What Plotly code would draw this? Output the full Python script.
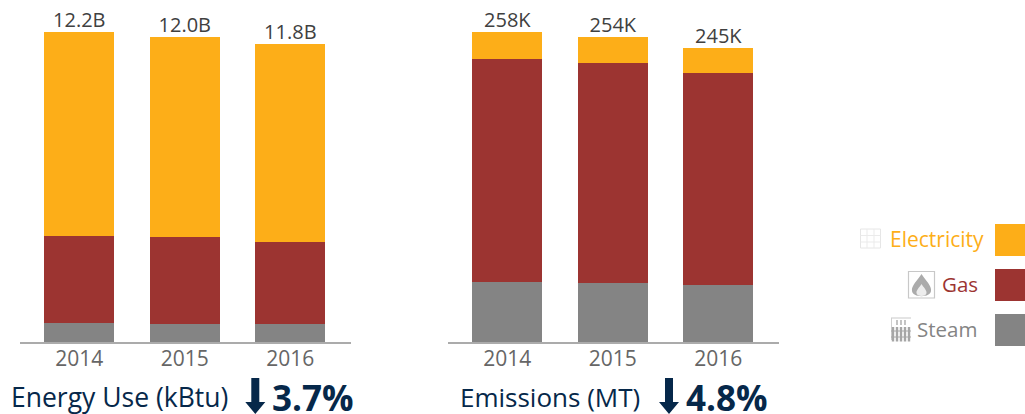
import plotly.graph_objects as go

W, H = 1025, 414
years = ["2014", "2015", "2016"]
energy_steam = [0.75, 0.71, 0.71]
energy_gas = [3.42, 3.42, 3.23]
energy_elec = [8.03, 7.87, 7.80]
energy_labels = ["12.2B", "12.0B", "11.8B"]
emis_steam = [49.9, 49.1, 47.4]
emis_gas = [185.6, 183.1, 176.4]
emis_elec = [22.5, 21.8, 21.2]
emis_labels = ["258K", "254K", "245K"]

ELEC, GAS, STEAM = "#FDAE18", "#9C3431", "#848484"
NAVY = "#06284A"
FONT = "Open Sans"

def px(x): return x / W
def py(y): return 1 - y / H

fig = go.Figure()
for xa, ya, s, g, e, lab in [("x", "y", energy_steam, energy_gas, energy_elec, energy_labels),
                             ("x2", "y2", emis_steam, emis_gas, emis_elec, emis_labels)]:
    for vals, col in [(s, STEAM), (g, GAS), (e, ELEC)]:
        fig.add_trace(go.Bar(x=years, y=vals, marker=dict(color=col, line_width=0),
                             xaxis=xa, yaxis=ya, showlegend=False))
    totals = [a + b + c for a, b, c in zip(s, g, e)]
    fig.add_trace(go.Scatter(x=years, y=totals, mode="text", text=lab, textposition="top center",
                             textfont=dict(family=FONT, size=20, color="#404040"),
                             cliponaxis=False, xaxis=xa, yaxis=ya, showlegend=False))

axis = dict(type="category", range=[-0.562, 2.575], showgrid=False, zeroline=False,
            showline=True, linecolor="#ABABAB", linewidth=1.5, ticks="", ticklen=0,
            ticklabelstandoff=-3,
            tickfont=dict(family=FONT, size=21, color="#666666"), fixedrange=True)
yaxis = dict(visible=False, fixedrange=True, domain=[72 / H, 1])

annots = []
def note(x, y, text, size, color, anchor="left", bold=False):
    annots.append(dict(xref="paper", yref="paper", x=px(x), y=py(y), text=f"<b>{text}</b>" if bold else text,
                       showarrow=False, xanchor=anchor, yanchor="middle", xshift=0, yshift=0,
                       font=dict(family=FONT, size=size, color=color)))

note(9, 397, "Energy Use (kBtu)", 26.5, NAVY)
note(270, 397, "3.7%", 35, NAVY, bold=True)
note(458, 397, "Emissions (MT)", 26, NAVY)
note(684, 397, "4.8%", 35, NAVY, bold=True)
note(986, 239, "Electricity", 21, ELEC, "right")
note(980, 284, "Gas", 20.5, GAS, "right")
note(979, 329, "Steam", 20.5, STEAM, "right")

shapes = []
def rect(x0, y0, x1, y1, fill=None, line=None, lw=1):
    shapes.append(dict(type="rect", xref="paper", yref="paper", x0=px(x0), x1=px(x1), y0=py(y1), y1=py(y0),
                       fillcolor=fill or "rgba(0,0,0,0)", line=dict(color=line or "rgba(0,0,0,0)", width=lw if line else 0)))
def seg(x0, y0, x1, y1, color, lw=1):
    shapes.append(dict(type="line", xref="paper", yref="paper", x0=px(x0), x1=px(x1), y0=py(y0), y1=py(y1),
                       line=dict(color=color, width=lw)))
def poly(points, fill):
    d = "M " + " L ".join(f"{px(a)},{py(b)}" for a, b in points) + " Z"
    shapes.append(dict(type="path", xref="paper", yref="paper", path=d, fillcolor=fill, line_width=0))

for y0, c in [(224, ELEC), (269, GAS), (314, STEAM)]:
    rect(995, y0, 1025, y0 + 32, fill=c)

# arrows beside the percentages
for cx in [255.3, 669]:
    poly([(cx - 4, 378), (cx + 4, 378), (cx + 4, 402), (cx + 10, 402), (cx, 414), (cx - 10, 402), (cx - 4, 402)], NAVY)

# electricity icon: grid
rect(860.5, 229, 880.5, 248, line="#E6E6E6", lw=1)
for x in [867, 874]:
    seg(x, 229, x, 248, "#EBEBEB")
for y in [235.5, 242]:
    seg(860.5, y, 880.5, y, "#EBEBEB")

# gas icon: framed flame
rect(908.5, 271.5, 934.5, 298, line="#C8C8C8", lw=1.2)
def flame_path(cx, top, bot, hw):
    mid = (top + bot) / 2
    return (f"M {px(cx)},{py(top)} C {px(cx+hw*0.4)},{py(top+(bot-top)*0.25)} {px(cx+hw*1.1)},{py(mid)} {px(cx+hw)},{py(mid+(bot-top)*0.2)} "
            f"C {px(cx+hw)},{py(bot)} {px(cx-hw)},{py(bot)} {px(cx-hw)},{py(mid+(bot-top)*0.2)} "
            f"C {px(cx-hw*1.1)},{py(mid)} {px(cx-hw*0.4)},{py(top+(bot-top)*0.25)} {px(cx)},{py(top)} Z")
shapes.append(dict(type="path", xref="paper", yref="paper", path=flame_path(921.5, 274, 298, 9.5), fillcolor="#ABABAB", line_width=0))
shapes.append(dict(type="path", xref="paper", yref="paper", path=flame_path(921.5, 284, 297, 5), fillcolor="#EDEDED", line_width=0))

# steam icon: radiator
rect(891, 317.5, 911, 318.5, fill="#C8C8C8")
seg(891.5, 318, 891.5, 340, "#D0D0D0")
for x in [893, 897, 901, 905, 909]:
    seg(x, 327, x, 341.5, "#A6A6A6", 2.4)
seg(891, 331, 911, 331, "#A6A6A6", 1)
seg(891, 337, 911, 337, "#A6A6A6", 1)
for x in [897, 901, 905]:
    seg(x, 320, x, 325, "#B5B5B5", 1.6)

fig.update_layout(
    width=W, height=H, margin=dict(l=0, r=0, t=0, b=0), autosize=False,
    paper_bgcolor="white", plot_bgcolor="white", barmode="stack", bargap=0.336,
    xaxis=dict(axis, domain=[px(20), px(351)], anchor="y"),
    xaxis2=dict(axis, domain=[px(448), px(779)], anchor="y2"),
    yaxis=dict(yaxis, range=[0, 342 / 25.41], anchor="x"),
    yaxis2=dict(yaxis, range=[0, 342 / 1.2016], anchor="x2"),
    annotations=annots, shapes=shapes,
)
fig.write_html("out.html", config={"displayModeBar": False},
               post_script="document.body.style.margin='0';document.documentElement.style.overflow='hidden';")
